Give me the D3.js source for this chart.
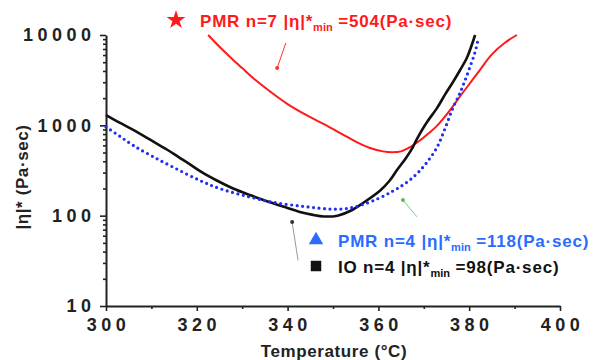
<!DOCTYPE html>
<html>
<head>
<meta charset="utf-8">
<script src="https://cdn.jsdelivr.net/npm/d3@7"></script>
<style>
  body { margin: 0; background: #fff; }
  svg { font-family: "Liberation Sans", Arial, sans-serif; font-weight: bold; }
  .axis path, .axis line { stroke: #222; }
  .axis path { stroke-width: 2; }
  .axis line { stroke-width: 1.6; }
  .axis text { font-size: 18px; fill: #222; letter-spacing: 4.5px; font-weight: bold; }
</style>
</head>
<body>
<div id="chart"></div>
<script>
// PMR n=7
const redT = [322.5, 325, 327.5, 330, 333, 336, 340, 345, 348, 352, 355, 358, 361, 363, 365, 367, 369, 371, 373, 376, 378, 380, 382.5, 385, 388, 390.5];
const redV = [10000, 7400, 5600, 4300, 3150, 2400, 1720, 1230, 1030, 800, 660, 565, 515, 504, 515, 575, 670, 810, 1000, 1520, 2100, 2850, 4200, 6100, 8300, 10000];

// PMR n=4
const blueT = [300, 303, 306, 310, 315, 320.7, 325, 331.7, 337, 342.7, 347, 350, 353, 356, 360, 363, 365, 367, 369, 370.7, 372.9, 374.7, 376.4, 378, 379.1, 380.2, 381.3, 382];
const blueV = [960, 760, 600, 460, 340, 245, 200, 161, 140, 128, 121, 118, 120, 130, 155, 185, 212, 250, 310, 390, 570, 930, 1550, 2300, 3160, 4470, 6500, 9100];

// IO n=4
const blackT = [300, 303, 306, 310, 313.4, 316, 318.5, 321, 324.4, 328, 331.7, 335, 339, 342.7, 345.6, 348, 351, 354, 356.6, 360.4, 362.5, 364.1, 366, 367.6, 368.5, 370.5, 372.9, 374.7, 376.4, 378, 379.5, 381.3];
const blackV = [1300, 1070, 890, 680, 540, 445, 370, 305, 245, 200, 169, 147, 126, 110, 102, 98, 100, 114, 138, 190, 245, 320, 430, 575, 710, 1050, 1550, 2200, 3000, 4100, 5600, 10000];

const xTicks = [300, 320, 340, 360, 380, 400];
const xMinor = [310, 330, 350, 370, 390];
const yTicks = [10, 100, 1000, 10000];

const width = 593, height = 360;
const svg = d3.select('#chart').append('svg')
  .attr('width', width).attr('height', height);

const x = d3.scaleLinear().domain([300, 400]).range([106, 560]);
const y = d3.scaleLog().domain([10, 10000]).range([306, 35]);

const yMinor = [];
yTicks.slice(0, -1).forEach(d => { for (let k = 2; k < 10; k++) yMinor.push(d * k); });

// axes
svg.append('g').attr('class', 'axis')
  .attr('transform', 'translate(106,0)')
  .call(d3.axisLeft(y).tickValues(yMinor).tickSize(3).tickFormat(''))
  .select('.domain').remove();
const yAxis = svg.append('g').attr('class', 'axis')
  .attr('transform', 'translate(106,0)')
  .call(d3.axisLeft(y).tickValues(yTicks).tickSize(6).tickSizeOuter(0).tickPadding(9).tickFormat(d3.format('d')));
yAxis.selectAll('text').attr('dx', '4.5px');

svg.append('g').attr('class', 'axis')
  .attr('transform', 'translate(0,306)')
  .call(d3.axisBottom(x).tickValues(xMinor).tickSize(3).tickFormat(''))
  .select('.domain').remove();
const xAxis = svg.append('g').attr('class', 'axis')
  .attr('transform', 'translate(0,306)')
  .call(d3.axisBottom(x).tickValues(xTicks).tickSize(5).tickSizeOuter(0).tickPadding(7));
xAxis.selectAll('text').attr('dx', '2px');

// axis titles
svg.append('text')
  .attr('x', 334).attr('y', 357)
  .attr('text-anchor', 'middle')
  .style('font-size', '17px').style('letter-spacing', '0.6px').attr('fill', '#222')
  .text('Temperature (\u00b0C)');
svg.append('text')
  .attr('transform', 'translate(28,177) rotate(-90)')
  .attr('text-anchor', 'middle')
  .style('font-size', '17px').style('letter-spacing', '0.6px').attr('fill', '#222')
  .text('|\u03b7|* (Pa\u00b7sec)');

// curves
const line = d3.line().curve(d3.curveCatmullRom.alpha(0.5))
  .x(d => x(d[0])).y(d => y(d[1]));

svg.append('path')
  .datum(redT.map((t, i) => [t, redV[i]]))
  .attr('d', line)
  .attr('fill', 'none').attr('stroke', '#ff1a1a').attr('stroke-width', 2);

svg.append('path')
  .datum(blackT.map((t, i) => [t, blackV[i]]))
  .attr('d', line)
  .attr('fill', 'none').attr('stroke', '#111').attr('stroke-width', 2.6);

svg.append('path')
  .datum(blueT.map((t, i) => [t, blueV[i]]))
  .attr('d', line)
  .attr('fill', 'none').attr('stroke', '#1f2ef5').attr('stroke-width', 3.2)
  .attr('stroke-linecap', 'round').attr('stroke-dasharray', '0 5.5');

// annotation arrows
const arrows = [
  { from: [339.6, 8150], to: [337.7, 4310], color: '#ff3030', head: '#ff3030' },
  { from: [368.5, 97], to: [365.4, 149], color: '#7ccf7c', head: '#5cb85c' },
  { from: [342.3, 32], to: [341, 85], color: '#999', head: '#333' }
];
arrows.forEach(a => {
  svg.append('line')
    .attr('x1', x(a.from[0])).attr('y1', y(a.from[1]))
    .attr('x2', x(a.to[0])).attr('y2', y(a.to[1]))
    .attr('stroke', a.color).attr('stroke-width', 1);
  svg.append('circle')
    .attr('cx', x(a.to[0])).attr('cy', y(a.to[1]))
    .attr('r', 2).attr('fill', a.head);
});

// legend entries
const legend = [
  { sym: d3.symbolStar, size: 110, color: '#ff1a1a', sx: 176, sy: 20, tx: 200, ty: 27, label: 'PMR n=7 |\u03b7|*', val: ' =504(Pa\u00b7sec)' },
  { sym: d3.symbolTriangle, size: 90, color: '#2a6cff', sx: 316, sy: 240, tx: 338, ty: 247, label: 'PMR n=4 |\u03b7|*', val: ' =118(Pa\u00b7sec)' },
  { sym: d3.symbolSquare, size: 110, color: '#111', sx: 316, sy: 266, tx: 338, ty: 273, label: 'IO n=4 |\u03b7|*', val: ' =98(Pa\u00b7sec)' }
];
legend.forEach(l => {
  svg.append('path')
    .attr('d', d3.symbol().type(l.sym).size(l.size))
    .attr('transform', `translate(${l.sx},${l.sy})`)
    .attr('fill', l.color);
  const t = svg.append('text')
    .attr('x', l.tx).attr('y', l.ty)
    .attr('fill', l.color).style('font-size', '17px').style('letter-spacing', '0.8px');
  t.append('tspan').text(l.label);
  t.append('tspan').attr('dy', 4).style('font-size', '11px').style('letter-spacing', '0px').text('min');
  t.append('tspan').attr('dy', -4).text(l.val);
});
</script>
</body>
</html>
